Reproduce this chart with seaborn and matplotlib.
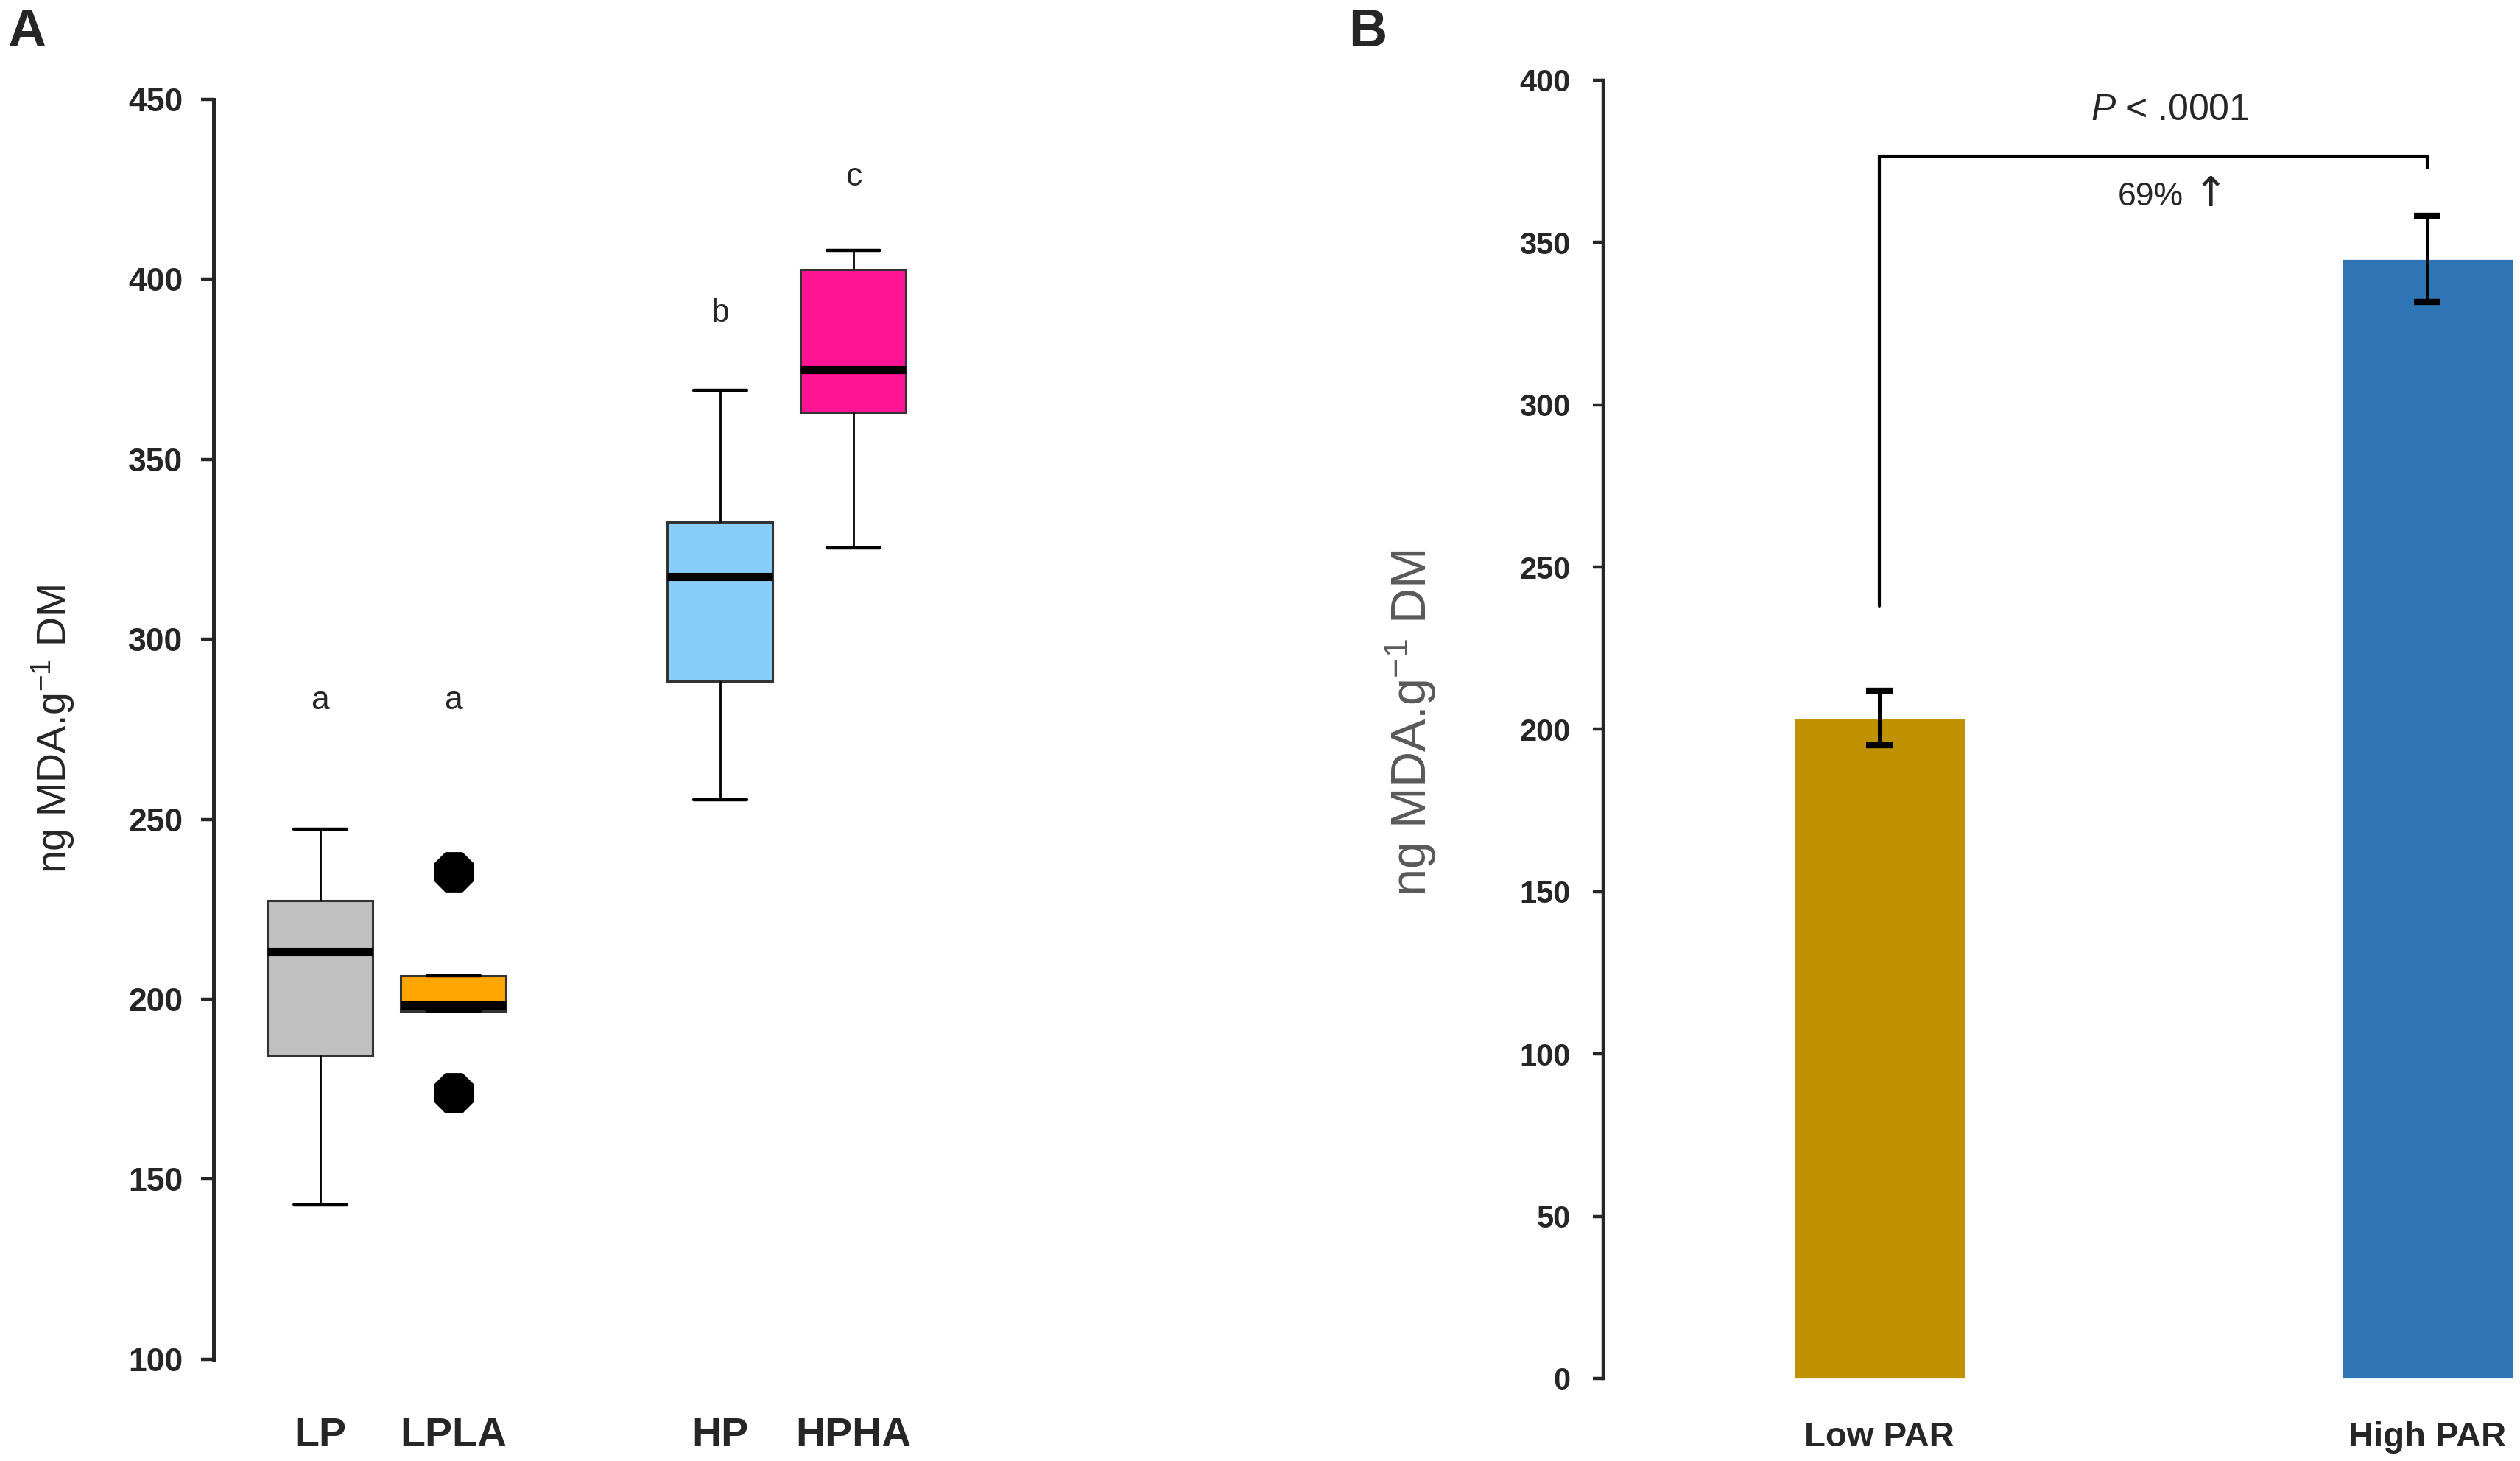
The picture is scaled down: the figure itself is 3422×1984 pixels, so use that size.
import numpy as np
import pandas as pd
import matplotlib
matplotlib.use("Agg")
import matplotlib.pyplot as plt
import seaborn as sns

# 패널 A: 박스플롯용 값 (그림에서 읽은 5개 요약값)
lp_vals = [143.0, 184.5, 213.3, 227.5, 247.3]
lpla_vals = [174.0, 196.8, 198.3, 206.5, 235.4]
hp_vals = [255.5, 288.4, 317.4, 332.6, 369.2]
hpha_vals = [325.4, 363.0, 375.0, 402.7, 408.0]
box_groups = ["LP", "LPLA", "HP", "HPHA"]
box_order = ["LP", "LPLA", "", "HP", "HPHA"]
box_colors = ["#C0C0C0", "#FFA500", "#87CEFA", "#FF1493"]
sig_letters = ["a", "a", "b", "c"]
sig_heights = [283, 283, 390.5, 428.5]

# 패널 B: 막대그래프 평균 및 표준오차
par_labels = ["Low PAR", "High PAR"]
par_means = [203.5, 345.0]
par_se = [8.5, 13.2]
par_colors = ["#BF9000", "#2E75B6"]

sns.set_style("ticks")
plt.rcParams["font.family"] = ["Liberation Sans", "DejaVu Sans"]
plt.rcParams["mathtext.fontset"] = "custom"
plt.rcParams["mathtext.rm"] = "Liberation Sans"
plt.rcParams["mathtext.it"] = "Liberation Sans:italic"

fig = plt.figure(figsize=(17.11, 9.92), dpi=200)
axA = fig.add_axes([0.0848, 0.0696, 0.2856, 0.8624])
axB = fig.add_axes([0.6362, 0.0565, 0.3638, 0.8886])

# 데이터프레임 구성
df = pd.DataFrame({
    "group": np.repeat(box_groups, 5),
    "value": lp_vals + lpla_vals + hp_vals + hpha_vals,
})

sns.boxplot(data=df, x="group", y="value", order=box_order, hue="group",
            hue_order=box_groups, palette=box_colors, saturation=1,
            legend=False, width=0.79, ax=axA, linecolor="#333333",
            linewidth=1.1,
            medianprops=dict(color="black", linewidth=4),
            whiskerprops=dict(color="black", linewidth=1.0),
            capprops=dict(color="black", linewidth=1.6),
            flierprops=dict(marker="8", markersize=20, markerfacecolor="black",
                            markeredgecolor="black"))

axA.set_ylim(100, 450)
axA.set_xlim(-0.8, 4.6)
axA.set_yticks(np.arange(100, 451, 50))
axA.set_xlabel("")
axA.set_ylabel("ng MDA.g$^{-1}$ DM", fontsize=20)
axA.yaxis.set_label_coords(-0.19, 0.5)
for sp in ["top", "right", "bottom"]:
    axA.spines[sp].set_visible(False)
axA.spines["left"].set_linewidth(1.8)
axA.tick_params(axis="y", length=6, width=1.6, pad=9)
axA.tick_params(axis="x", length=0, pad=28)
for lab in axA.get_yticklabels():
    lab.set_fontweight("bold")
    lab.set_fontsize(16)
for lab in axA.get_xticklabels():
    lab.set_fontweight("bold")
    lab.set_fontsize(20)

# 유의성 문자
for g, letter, h in zip(box_groups, sig_letters, sig_heights):
    axA.text(box_order.index(g), h, letter, ha="center", va="center", fontsize=16)

# 패널 B
sns.barplot(x=par_labels, y=par_means, hue=par_labels, palette=par_colors,
            legend=False, errorbar=None, width=0.313, saturation=1, ax=axB)
axB.errorbar(x=range(len(par_labels)), y=par_means, yerr=par_se, fmt="none",
             ecolor="black", elinewidth=1.8, capsize=6.5, capthick=3)

axB.set_ylim(0, 400)
axB.set_xlim(-0.504, 1.169)
axB.set_yticks(np.arange(0, 401, 50))
axB.set_ylabel("ng MDA.g$^{-1}$ DM", fontsize=24, color="#595959")
axB.yaxis.set_label_coords(-0.18, 0.505)
for sp in ["top", "right", "bottom"]:
    axB.spines[sp].set_visible(False)
axB.spines["left"].set_linewidth(1.6)
axB.tick_params(axis="y", length=5, width=1.6, pad=11)
axB.tick_params(axis="x", length=0, pad=21)
for lab in axB.get_yticklabels():
    lab.set_fontweight("bold")
    lab.set_fontsize(15)
for lab in axB.get_xticklabels():
    lab.set_fontweight("bold")
    lab.set_fontsize(17)

# 유의성 괄호
axB.plot([0, 0, 1, 1], [238, 376.6, 376.6, 373], color="black", linewidth=1.5,
         clip_on=False)
axB.text(0.53, 390.7, "$\\it{P}$ < .0001", ha="center", va="center",
         fontsize=18)
axB.text(0.555, 364, "69%", ha="right", va="center", fontsize=16)
axB.text(0.605, 364.5, "\u2191", ha="center", va="center", fontsize=20,
         fontfamily=["DejaVu Sans"])

# 패널 라벨
fig.text(0.003, 0.995, "A", fontsize=26, fontweight="bold", ha="left", va="top")
fig.text(0.535, 0.995, "B", fontsize=26, fontweight="bold", ha="left", va="top")

fig.savefig("out.png", dpi=200)
